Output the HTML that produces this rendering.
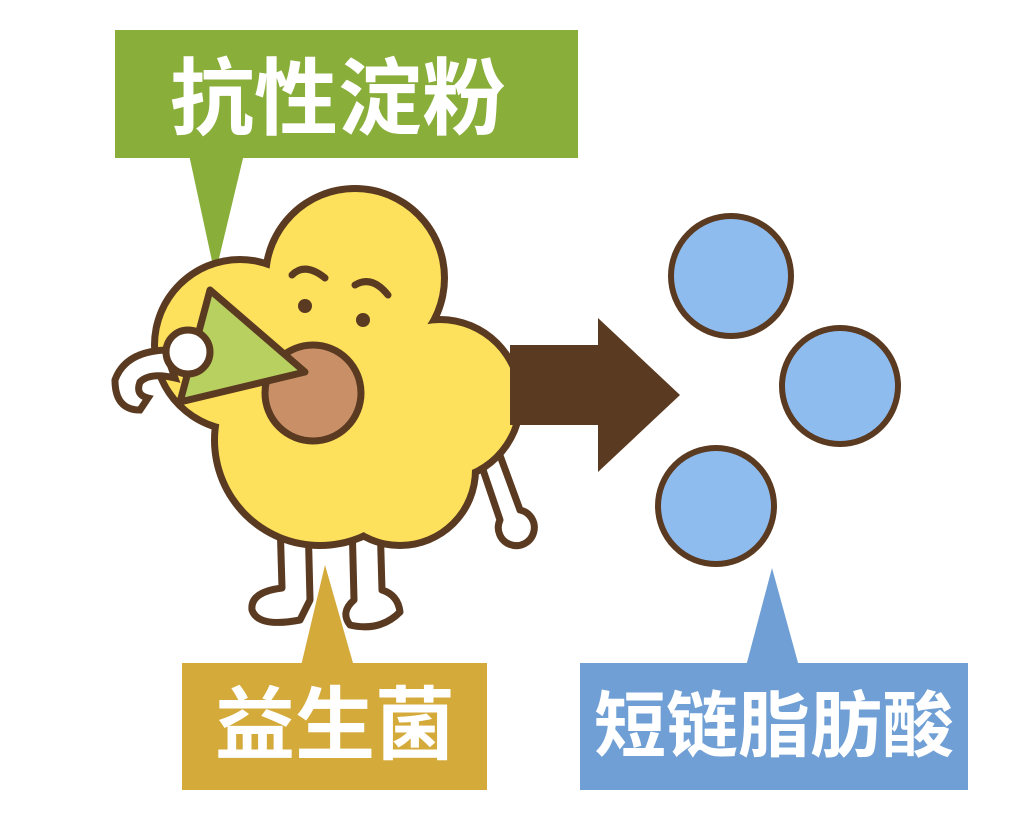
<!DOCTYPE html>
<html><head><meta charset="utf-8"><style>
html,body{margin:0;padding:0;background:#fff;}
svg{display:block}
text{font-family:"Liberation Sans","Noto Sans CJK SC",sans-serif;font-weight:bold;fill:#fff;}
</style></head><body>
<svg width="1029" height="818" viewBox="0 0 1029 818">
<rect width="1029" height="818" fill="#fff"/>
<rect x="115" y="30" width="463" height="128" fill="#8aae3a"/>
<polygon points="188,150 245,150 215,275" fill="#8aae3a"/>
<text x="338" y="128" font-size="84" text-anchor="middle">抗性淀粉</text>
<g stroke="#5a3a20" stroke-width="7" fill="#fff" stroke-linejoin="round">
<path d="M478,455 L500,520 A18,18 0 1 0 520,510 L498,450 Z"/>
<path d="M280,520 L282,588 Q250,592 252,610 Q258,628 300,620 L310,600 L308,520 Z"/>
<path d="M352,520 L354,600 Q340,612 350,625 Q380,632 400,612 Q398,595 382,590 L380,520 Z"/>
</g>
<g fill="#5a3a20">
<circle cx="355" cy="278" r="93"/>
<circle cx="240" cy="345" r="89"/>
<circle cx="440" cy="400" r="84"/>
<circle cx="320" cy="440" r="109"/>
<circle cx="400" cy="470" r="79"/>
</g>
<g fill="#fde05c">
<circle cx="355" cy="278" r="86"/>
<circle cx="240" cy="345" r="82"/>
<circle cx="440" cy="400" r="77"/>
<circle cx="320" cy="440" r="102"/>
<circle cx="400" cy="470" r="72"/>
</g>
<g stroke="#5a3a20" stroke-width="7" fill="none" stroke-linecap="round">
<path d="M292,275 Q305,262 325,278"/>
<path d="M355,285 Q372,275 388,295"/>
</g>
<circle cx="305" cy="306" r="7" fill="#5a3a20"/>
<circle cx="363" cy="320" r="7" fill="#5a3a20"/>
<circle cx="313" cy="393" r="48" fill="#c99068" stroke="#5a3a20" stroke-width="7"/>
<polygon points="210,290 305,372 180,402 198,335" fill="#b8d060" stroke="#5a3a20" stroke-width="7" stroke-linejoin="round"/>
<g stroke="#5a3a20" stroke-width="7" fill="#fff">
<path d="M165,350 Q125,352 115,380 Q115,410 140,410 L148,398 Q135,395 140,382 Q150,372 175,378 Z"/>
<circle cx="188" cy="352" r="22"/>
</g>
<polygon points="510,345 598,345 598,318 680,395 598,472 598,425 510,425" fill="#5a3a20"/>
<g fill="#8fbcef" stroke="#5a3a20" stroke-width="6">
<circle cx="731" cy="276" r="60"/>
<circle cx="840" cy="386" r="58"/>
<circle cx="716" cy="506" r="58"/>
</g>
<polygon points="325,565 300,670 355,670" fill="#d4aa3a"/>
<rect x="182" y="663" width="305" height="127" fill="#d4aa3a"/>
<text x="335" y="753" font-size="80" text-anchor="middle">益生菌</text>
<polygon points="772,568 745,670 800,670" fill="#6f9fd4"/>
<rect x="580" y="663" width="388" height="127" fill="#6f9fd4"/>
<text x="774" y="751" font-size="72" text-anchor="middle">短链脂肪酸</text>
</svg>
</body></html>
